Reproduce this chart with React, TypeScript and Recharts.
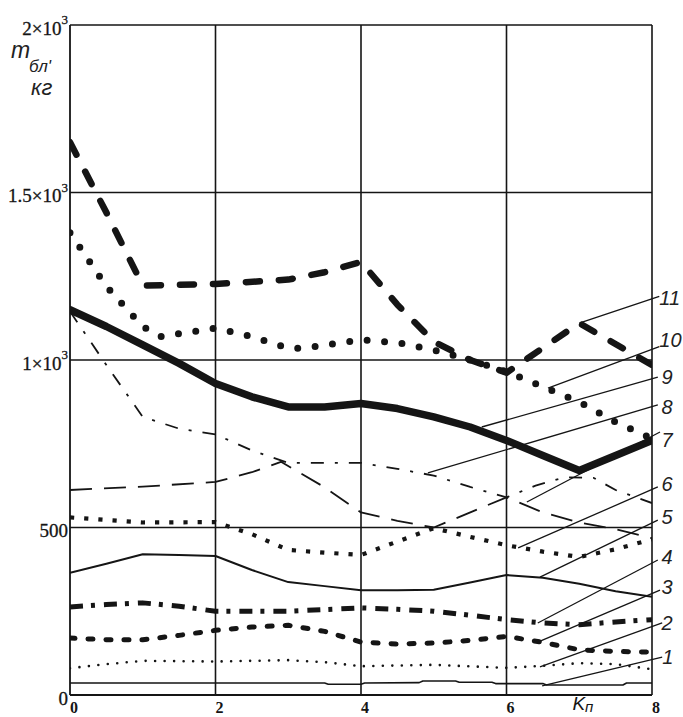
import React from 'react';
import { LineChart, Line, XAxis, YAxis, ReferenceLine, ReferenceDot } from 'recharts';

// ---- axis ticks ----
const xTicks = [0, 2, 4, 6, 7.05, 8];
const xTickLabels = ['0', '2', '4', '6', 'K', '8'];
const xTickSubs = ['', '', '', '', 'п', ''];
const yTicks = [0, 500, 1000, 1500, 2000];
const yTickMain = ['0', '500', '1×10', '1.5×10', '2×10'];
const yTickSup = ['', '', '3', '3', '3'];

// ---- grid ----
const gridX = [2, 4, 6, 8];
const gridY = [500, 1000, 1500, 2000];

// ---- series (x = Kп, y = m бл, кг) ----
const series1: [number, number][] = [[0, 36], [3.5, 36], [3.55, 32], [4.0, 32], [4.05, 36], [4.8, 37], [4.85, 42], [5.3, 42], [5.35, 38], [5.8, 38], [5.85, 34], [6.5, 34], [6.55, 30], [7.6, 30], [7.65, 36], [8, 36]];
const series2: [number, number][] = [[0, 80], [0.5, 92], [1, 102], [2, 100], [3, 104], [3.5, 98], [4, 86], [5, 90], [6, 81], [6.5, 87], [7, 95], [7.5, 92], [8, 77]];
const series3: [number, number][] = [[0, 170], [0.5, 165], [1, 165], [1.5, 178], [2, 193], [2.5, 203], [3, 208], [3.5, 190], [4, 158], [4.5, 152], [5, 155], [5.5, 163], [6, 175], [6.5, 157], [7, 135], [7.5, 130], [8, 128]];
const series4: [number, number][] = [[0, 263], [0.5, 270], [1, 275], [1.5, 265], [2, 250], [3, 250], [4, 260], [4.5, 256], [5, 250], [5.5, 238], [6, 225], [6.5, 215], [7, 210], [7.5, 218], [8, 225]];
const series5: [number, number][] = [[0, 365], [0.5, 392], [1, 420], [1.5, 418], [2, 415], [2.5, 373], [3, 337], [3.5, 325], [4, 313], [4.5, 313], [5, 314], [5.5, 336], [6, 358], [6.5, 350], [7, 332], [7.5, 310], [8, 293]];
const series6: [number, number][] = [[0, 530], [1, 515], [2, 516], [2.5, 480], [3, 433], [3.5, 425], [4, 418], [4.5, 458], [5, 498], [5.5, 472], [6, 447], [6.5, 428], [7, 412], [7.5, 435], [8, 465]];
const series7: [number, number][] = [[0, 612], [1, 622], [2, 636], [2.5, 665], [2.9, 696], [3.5, 620], [4, 545], [4.5, 520], [5, 500], [6, 590], [6.5, 545], [7, 515], [7.5, 495], [8, 468]];
const series8: [number, number][] = [[0, 1145], [0.5, 985], [1, 830], [1.5, 795], [2, 778], [2.5, 730], [3, 693], [4, 693], [4.5, 675], [5, 655], [5.5, 621], [6, 590], [6.4, 625], [6.8, 650], [7.2, 648], [7.5, 612], [8, 573]];
const series9: [number, number][] = [[0, 1150], [0.5, 1100], [1, 1045], [1.5, 990], [2, 930], [2.5, 890], [3, 860], [3.5, 860], [4, 870], [4.5, 855], [5, 830], [5.5, 800], [6, 760], [6.5, 715], [7, 670], [7.5, 715], [8, 760]];
const series10: [number, number][] = [[0, 1380], [0.5, 1220], [1, 1100], [1.25, 1070], [2, 1095], [2.5, 1070], [3, 1035], [3.2, 1035], [4, 1060], [4.5, 1052], [5, 1030], [5.5, 1000], [6, 965], [6.5, 920], [7, 875], [7.5, 815], [8, 765]];
const series11: [number, number][] = [[0, 1650], [0.5, 1440], [1, 1222], [2, 1227], [3, 1240], [3.5, 1262], [4, 1293], [4.5, 1165], [5, 1055], [5.5, 1000], [6, 962], [7, 1110], [8, 985]];

// ---- curve labels and leader lines ----
const curveNames = ['1', '2', '3', '4', '5', '6', '7', '8', '9', '10', '11'];
const labelX = [8.14, 8.13, 8.13, 8.13, 8.13, 8.13, 8.13, 8.13, 8.13, 8.1, 8.1];
const labelY = [113, 215, 322, 412, 531, 630, 761, 860, 949, 1060, 1185];
const leaderFromX = [8.14, 8.14, 8.11, 8.08, 8.08, 8.08, 8.11, 8.08, 8.08, 8.1, 8.1];
const leaderFromY = [113, 215, 313, 403, 522, 621, 785, 866, 949, 1040, 1190];
const leaderToX = [6.49, 6.46, 6.43, 6.43, 6.46, 6.16, 6.28, 4.92, 5.66, 6.57, 7.0];
const leaderToY = [27, 84, 158, 215, 352, 439, 576, 663, 800, 916, 1110];

const toData = (pts: [number, number][]) => pts.map(([x, y]) => ({ x, y }));

const INK = '#151515';

type LineStyle = { width: number; dash?: string; cap: 'round' | 'butt' };
const styles: LineStyle[] = [
  { width: 1.6, cap: 'butt' },
  { width: 2.6, dash: '0 9.5', cap: 'round' },
  { width: 5, dash: '5 13', cap: 'round' },
  { width: 5, dash: '13 8 4 9', cap: 'butt' },
  { width: 2, cap: 'butt' },
  { width: 4.2, dash: '4.2 10', cap: 'butt' },
  { width: 1.8, dash: '22 12', cap: 'butt' },
  { width: 1.8, dash: '13 11 3 11', cap: 'butt' },
  { width: 7.5, cap: 'round' },
  { width: 7, dash: '0 17.5', cap: 'round' },
  { width: 6.5, dash: '14 19', cap: 'round' },
];
const allSeries = [series1, series2, series3, series4, series5, series6, series7, series8, series9, series10, series11];

const YTick = (props: any) => {
  const { x, y, payload } = props;
  const i = yTicks.indexOf(payload.value);
  return (
    <text x={x} y={y + 3} textAnchor="end" dominantBaseline="central" fontFamily="Liberation Serif" fontSize={19} fill={INK} stroke={INK} strokeWidth={0.3}>
      {yTickMain[i]}
      {yTickSup[i] ? <tspan dy={-9} fontSize={13}>{yTickSup[i]}</tspan> : null}
    </text>
  );
};

const XTick = (props: any) => {
  const { x, y, payload } = props;
  const i = xTicks.indexOf(payload.value);
  if (xTickSubs[i]) {
    return (
      <text x={x} y={y + 15} textAnchor="middle" fontFamily="Liberation Sans" fontStyle="italic" fontSize={19} fill={INK}>
        {xTickLabels[i]}
        <tspan dy={2} fontSize={15}>{xTickSubs[i]}</tspan>
      </text>
    );
  }
  return (
    <text x={x + 4} y={y + 18} textAnchor="middle" fontFamily="Liberation Serif" fontWeight="bold" fontSize={16} fill={INK}>
      {xTickLabels[i]}
    </text>
  );
};

export default function App() {
  return (
    <div style={{ position: 'absolute', left: 0, top: 0, width: 683, height: 717, background: '#fff' }}>
      <LineChart width={683} height={717} margin={{ top: 25, right: 31, bottom: 0, left: 0 }}>
        <XAxis
          type="number"
          dataKey="x"
          domain={[0, 8]}
          ticks={xTicks}
          tick={<XTick />}
          tickLine={false}
          tickSize={0}
          tickMargin={0}
          height={22}
          axisLine={{ stroke: INK, strokeWidth: 1.8 }}
          interval={0}
          allowDataOverflow
        />
        <YAxis
          type="number"
          domain={[0, 2000]}
          ticks={yTicks}
          tick={<YTick />}
          tickLine={false}
          tickSize={0}
          tickMargin={2}
          width={70}
          axisLine={{ stroke: INK, strokeWidth: 1.8 }}
          interval={0}
          allowDataOverflow
        />
        {gridX.map((v) => (
          <ReferenceLine key={'gx' + v} x={v} stroke={INK} strokeWidth={1.6} />
        ))}
        {gridY.map((v) => (
          <ReferenceLine key={'gy' + v} y={v} stroke={INK} strokeWidth={1.6} />
        ))}
        {allSeries.map((s, i) => (
          <Line
            key={'s' + i}
            data={toData(s)}
            dataKey="y"
            type="linear"
            stroke={INK}
            strokeWidth={styles[i].width}
            strokeDasharray={styles[i].dash}
            strokeLinecap={styles[i].cap}
            strokeLinejoin="round"
            dot={false}
            activeDot={false}
            isAnimationActive={false}
          />
        ))}
        {curveNames.map((n, i) => (
          <ReferenceLine
            key={'ld' + n}
            segment={[
              { x: leaderFromX[i], y: leaderFromY[i] },
              { x: leaderToX[i], y: leaderToY[i] },
            ]}
            stroke={INK}
            strokeWidth={1.3}
            ifOverflow="visible"
          />
        ))}
        {curveNames.map((n, i) => (
          <ReferenceDot
            key={'lb' + n}
            x={labelX[i]}
            y={labelY[i]}
            r={0.01}
            fill="none"
            stroke="none"
            ifOverflow="visible"
            label={{
              value: n,
              position: 'right',
              offset: 0,
              fontSize: 20,
              fontStyle: 'italic',
              fontFamily: 'Liberation Sans',
              fill: '#222',
            }}
          />
        ))}
      </LineChart>
      <svg width={70} height={110} style={{ position: 'absolute', left: 0, top: 0, pointerEvents: 'none' }}>
        <text x={11} y={58} fontFamily="Liberation Sans" fontStyle="italic" fontSize={23} fill="#222">m</text>
        <text x={29} y={72} fontFamily="Liberation Sans" fontStyle="italic" fontSize={17} fill="#222">бл'</text>
        <text x={31} y={95} fontFamily="Liberation Sans" fontStyle="italic" fontSize={22} fill="#222">кг</text>
      </svg>
    </div>
  );
}
